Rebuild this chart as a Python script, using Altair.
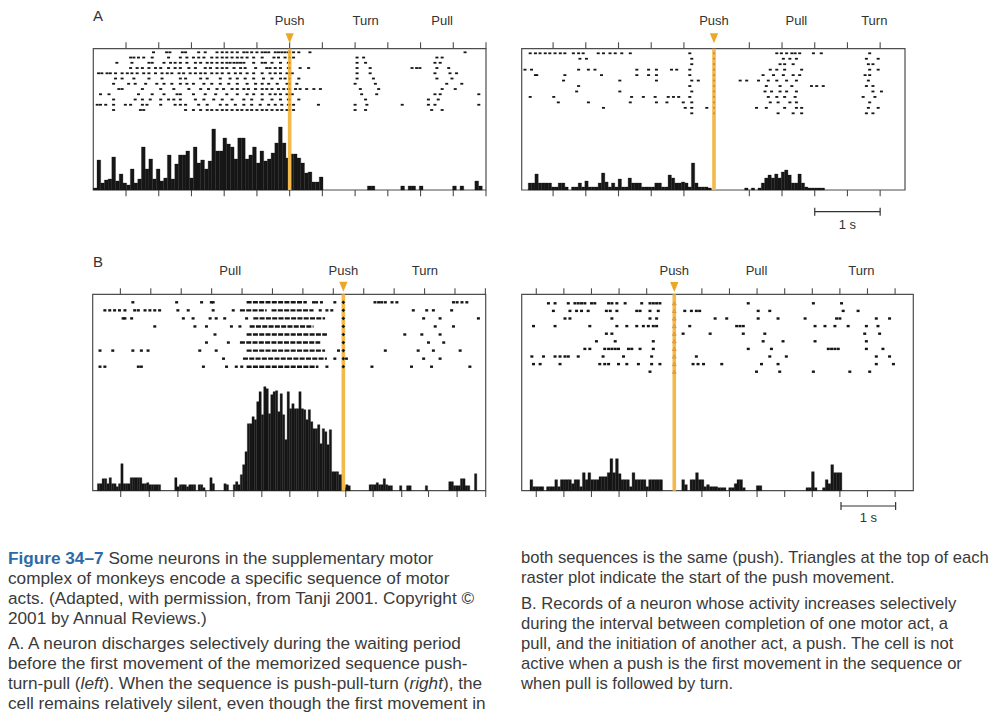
import altair as alt
import pandas as pd

FONT = "Liberation Sans"
INK = "#161616"
FRAME = "#4d4d4d"
ORANGE = "#F3B94A"
TRIC = "#EBA826"
MARKC = "#D98A2B"
TEXT = "#3a3a3a"
BLUE = "#2d6aa6"
OFF = 8  # page margin

# ---------------- DATA (times in s relative to push onset) ----------------
# A, left: push-turn-pull
al_rows = [
    [-2.08, -1.88, -1.83, -1.64, -1.59, -1.39, -1.29, -1.11, -1.03, -0.96, -0.88, -0.80, -0.70, -0.65, -0.58, -0.50, -0.42, -0.37, -0.32, -0.22, -0.17, -0.12, -0.07, -0.02, 0.06, 0.14, 0.31, 2.68],
    [-2.43, -2.38, -2.31, -2.23, -2.10, -1.85, -1.67, -1.57, -1.47, -1.39, -1.31, -1.19, -1.11, -1.03, -0.96, -0.88, -0.80, -0.73, -0.65, -0.55, -0.42, -0.24, -0.17, -0.07, 0.06, 1.03, 1.13, 2.25, 2.33],
    [-2.64, -2.41, -2.15, -2.10, -1.92, -1.82, -1.75, -1.67, -1.57, -1.44, -1.36, -1.26, -1.19, -1.11, -1.03, -0.96, -0.91, -0.85, -0.80, -0.75, -0.70, -0.55, -0.42, -0.37, -0.27, -0.14, -0.02, 1.03, 1.16, 2.22, 2.30],
    [-2.43, -2.33, -2.25, -2.15, -2.05, -1.97, -1.85, -1.75, -1.67, -1.54, -1.44, -1.29, -1.21, -1.11, -1.03, -0.96, -0.85, -0.75, -0.68, -0.52, -0.35, -0.30, -0.22, -0.14, -0.02, 0.16, 0.29, 1.03, 1.23, 1.87, 1.94, 1.99, 2.25, 2.43],
    [-2.92, -2.87, -2.79, -2.74, -2.66, -2.56, -2.48, -2.41, -2.33, -2.23, -2.15, -2.05, -1.95, -1.87, -1.80, -1.69, -1.62, -1.52, -1.44, -1.36, -1.29, -1.19, -1.11, -1.03, -0.93, -0.83, -0.75, -0.65, -0.55, -0.42, -0.30, -0.22, -0.14, -0.04, 0.04, 1.03, 1.23, 2.22, 2.45, 2.55],
    [-2.66, -2.56, -2.38, -2.15, -1.95, -1.67, -1.59, -1.36, -1.26, -1.06, -0.91, -0.80, -0.68, -0.55, -0.40, -0.27, -0.14, -0.07, 0.14, 1.03, 1.28, 2.25, 2.48],
    [-2.69, -2.46, -2.36, -2.20, -2.03, -1.92, -1.80, -1.67, -1.57, -1.47, -1.31, -1.19, -1.06, -0.93, -0.80, -0.65, -0.52, -0.42, -0.32, -0.19, -0.04, 0.11, 1.00, 1.31, 2.40, 2.63],
    [-2.61, -2.56, -2.25, -1.97, -1.77, -1.54, -1.36, -1.24, -1.11, -1.01, -0.88, -0.80, -0.70, -0.63, -0.52, -0.42, -0.35, -0.27, -0.17, -0.09, -0.02, 0.09, 0.16, 0.26, 0.37, 0.47, 1.08, 1.36, 2.33, 2.53],
    [-2.89, -2.76, -2.31, -2.10, -1.92, -1.72, -1.67, -1.47, -1.29, -1.13, -0.96, -0.80, -0.65, -0.55, -0.42, -0.30, -0.22, -0.14, -0.04, 0.04, 1.10, 1.33, 2.22, 2.30, 2.89],
    [-2.69, -2.36, -2.25, -2.13, -1.97, -1.85, -1.77, -1.67, -1.44, -1.31, -1.16, -1.03, -0.88, -0.70, -0.58, -0.42, -0.27, -0.14, -0.02, 0.14, 1.16, 2.12, 2.27],
    [-2.94, -2.89, -2.81, -2.69, -2.51, -2.43, -2.25, -2.18, -1.97, -1.75, -1.67, -1.59, -1.39, -1.26, -1.06, -0.96, -0.83, -0.70, -0.58, -0.45, -0.32, -0.22, -0.12, -0.02, 0.06, 0.44, 1.00, 1.18, 1.72, 2.12, 2.22, 2.89],
    [-2.69, -2.28, -2.23, -1.59, -1.47, -1.36, -1.26, -1.19, -1.11, -1.03, -0.96, -0.88, -0.80, -0.73, -0.65, -0.58, -0.50, -0.42, -0.35, -0.27, -0.19, -0.12, -0.04, 0.06, 1.00, 1.16, 2.17, 2.33],
]
al_hist_start = -3.0
al_hist_bw = 0.0566
al_hist = [2, 30, 7, 10, 11, 33, 9, 16, 7, 5, 21, 7, 11, 43, 21, 31, 11, 21, 9, 12,
           35, 11, 26, 35, 35, 39, 12, 43, 27, 30, 21, 29, 61, 39, 39, 52, 46, 43, 31, 52,
           52, 31, 35, 43, 27, 39, 29, 31, 37, 47, 63, 47, 32,
           36, 36, 32, 27, 17, 18, 8, 8, 13,
           0, 0, 0, 0, 0, 0, 0, 0, 0, 0, 0, 0, 4, 4, 0, 0, 0, 0, 0, 0, 0,
           4, 0, 4, 4, 0, 4, 0, 0, 0, 0, 0, 0, 0, 0, 4, 0, 4, 0, 0, 0, 9, 4]
al_ticks_top = [-2.5, -2.0, -1.5, -1.0, -0.5, 0.0, 0.5, 1.0, 1.5, 2.0, 2.5, 3.0]
al_ticks_bot = [-2.5, -2.0, -1.5, -1.0, -0.5, 0.0, 0.5, 1.0, 1.5, 2.0, 2.5, 3.0]
al_labels = ["Push", "Turn", "Pull"]
al_label_t = [0.0, 1.16, 2.33]

# A, right: push-pull-turn
ar_rows = [
    [-2.81, -2.73, -2.66, -2.58, -2.51, -2.43, -2.35, -2.28, -2.15, -2.07, -2.00, -1.77, -1.69, -1.59, -1.51, -1.41, -1.28, -0.37, 0.96, 1.03, 1.11, 1.19, 1.24, 1.31, 1.52, 1.64, 2.38],
    [-2.05, -1.95, -0.34, 1.06, 1.16, 1.26, 2.33, 2.51],
    [-0.34, 1.01, 1.08, 1.21, 2.36, 2.43],
    [-2.89, -2.79, -2.07, -1.92, -1.82, -1.18, -1.00, -0.88, -0.65, -0.57, -0.37, 0.86, 0.96, 1.08, 1.34, 2.38, 2.51],
    [-2.73, -2.71, -2.28, -1.72, -1.18, -1.00, -0.88, -0.37, 0.75, 0.91, 1.06, 1.21, 1.31, 2.31, 2.38],
    [-2.30, -1.44, -0.88, -0.34, -0.24, 0.40, 0.50, 0.68, 0.83, 0.96, 1.11, 1.26, 2.36],
    [-2.07, -0.37, 0.80, 1.01, 1.19, 1.49, 1.57, 1.67, 2.33, 2.43],
    [-2.10, -1.44, -0.34, 0.78, 0.88, 1.01, 1.11, 1.26, 2.43, 2.56],
    [-2.81, -2.45, -1.26, -1.08, -0.90, -0.70, -0.62, -0.54, -0.37, 0.83, 0.96, 1.08, 1.24, 2.28, 2.46],
    [-2.38, -1.92, -1.28, -0.88, -0.72, -0.47, -0.34, 0.86, 0.98, 1.16, 1.26, 2.38],
    [-1.69, -0.44, -0.34, -0.11, 0.65, 0.80, 1.08, 1.26, 1.34, 2.36, 2.51],
    [-0.34, 0.98, 1.21, 1.34, 2.33, 2.43],
]
ar_hist_start = -2.84
ar_hist_bw = 0.0509
ar_hist = [7, 7, 16, 7, 7, 7, 7, 3, 3, 7, 7, 3, 0, 3, 3, 7, 3, 9, 3, 3,
           3, 7, 17, 8, 3, 7, 3, 11, 3, 3, 12, 7, 7, 7, 3, 3, 3, 3, 7, 7,
           3, 3, 15, 12, 7, 7, 8, 7, 3, 27, 7, 3, 3, 3, 2, 0,
           0, 0, 0, 0, 0, 0, 0, 0, 0, 2, 0, 2, 0, 2, 7, 12, 15, 12, 16, 12,
           18, 20, 15, 7, 7, 16, 7, 3, 2, 2, 2, 2, 2]
ar_ticks_top = [-2.46, -1.96, -1.46, -0.96, -0.46, 0.54, 1.04, 1.54, 2.04, 2.54]
ar_ticks_bot = [-2.46, -1.96, -1.46, -0.96, -0.46, 0.54, 1.04, 1.54, 2.04, 2.54]
ar_labels = ["Push", "Pull", "Turn"]
ar_label_t = [0.0, 1.26, 2.45]
ar_scalebar = [1.54, 2.54]

# B, left: pull-push-turn
bl_rows = [
    [-3.46, -2.74, -2.33, -2.17, -2.14, -0.49, -0.44, -0.36, -0.14, 0.52, 0.58, 0.63, 0.69, 0.80, 0.88, 1.81, 1.87, 1.95, 2.03],
    [-3.92, -3.84, -3.76, -3.68, -3.59, -3.43, -3.37, -3.26, -3.18, -3.10, -3.02, -2.72, -2.55, -2.14, -1.81, -0.38, -0.27, -0.19, 1.15, 1.37, 1.48, 1.78],
    [-3.62, -3.59, -3.48, -2.63, -2.47, -2.19, -2.09, -1.95, -1.59, 1.32, 1.59, 2.22],
    [-3.10, -2.44, -2.25, -1.84, -1.70, 1.51, 1.81],
    [-2.11, 1.01, 1.29, 1.59],
    [-2.25, -1.89, 1.40, 1.65],
    [-4.00, -3.79, -3.46, -3.32, -3.21, -2.36, -2.09, -0.08, 0.69, 1.23, 1.48, 1.92],
    [-1.97, -0.14, 0.05, 1.32, 1.59],
    [-4.00, -3.92, -3.37, -3.32, -2.30, -1.92, -1.76, -1.67, -0.27, 0.47, 1.12, 1.45, 2.08],
]
bl_burst_row = [1, 2, 2, 3, 4, 5, 6, 7, 8, 9]
bl_burst_start = [-1.59, -1.70, -1.18, -1.48, -1.54, -1.59, -1.70, -1.59, -1.65, -1.59]
bl_burst_end = [-0.60, -1.26, -0.49, -0.30, -0.49, -0.27, -0.38, -0.30, -0.27, -0.41]
bl_hist_start = -4.12
bl_hist_bw = 0.0385
bl_hist = [0, 0, 7, 7, 12, 12, 7, 13, 7, 7, 4, 7, 27, 7, 7, 7, 13, 13, 13, 13,
           13, 7, 7, 8, 6, 6, 6, 6, 6, 0, 0, 0, 0, 0, 0, 13, 4, 6, 6, 6,
           4, 6, 6, 6, 0, 6, 6, 3, 0, 0, 13, 7, 0, 0, 0, 0, 7, 6, 0, 0,
           6, 9, 6, 16, 26, 39, 67, 67, 74, 71, 89, 99, 76, 104, 102, 77, 96, 99, 100, 79,
           97, 76, 51, 99, 82, 87, 82, 82, 99, 82, 81, 71, 81, 69, 62, 62, 66, 47, 62, 59,
           46, 61, 19, 19, 19, 16, 16, 3, 6, 5, 0, 0, 0, 0, 0, 0, 0, 0, 6, 6,
           6, 8, 6, 6, 12, 6, 5, 5, 0, 0, 0, 5, 0, 0, 5, 5, 0, 0, 0, 0,
           0, 0, 5, 0, 0, 0, 0, 0, 0, 0, 0, 0, 9, 9, 5, 5, 5, 12, 12, 5,
           5, 0, 0, 17]
bl_ticks_top = [-3.665, -3.165, -2.665, -2.165, -1.665, -1.165, -0.665, -0.165, 0.335, 0.835, 1.335, 1.835, 2.335]
bl_ticks_bot = [-3.66, -3.19, -2.72, -2.26, -1.80, -1.34, -0.88, -0.42, 0.04, 0.49, 0.96, 1.40, 1.87, 2.34]
bl_labels = ["Pull", "Push", "Turn"]
bl_label_t = [-1.86, 0.0, 1.34]

# B, right: push-pull-turn
br_rows = [
    [-2.28, -2.16, -1.92, -1.80, -1.74, -1.68, -1.62, -1.50, -1.44, -1.19, -1.13, -1.04, -0.89, -0.59, -0.44, -0.38, -0.32, -0.26, 1.34, 2.52, 3.03],
    [-2.19, -1.89, -1.77, -1.68, -1.56, -1.23, -1.16, -1.04, -0.68, -0.62, -0.44, -0.29, 0.19, 0.31, 0.40, 0.46, 1.52, 1.73, 3.06, 3.33],
    [-1.98, -1.89, -1.13, -0.44, -0.32, 0.74, 0.95, 1.52, 1.88, 2.37, 2.94, 3.00, 3.66, 3.90],
    [-2.55, -2.16, -1.53, -1.04, -0.86, -0.68, -0.56, -0.47, -0.38, -0.32, 0.28, 1.13, 1.19, 1.25, 2.55, 2.73, 2.91, 3.15, 3.48, 3.69],
    [-1.23, -1.13, 0.16, 0.65, 1.25, 1.64, 3.45, 3.72],
    [-1.41, -1.07, -0.38, 1.61, 1.97, 2.55, 3.48],
    [-1.62, -1.53, -1.26, -1.19, -1.13, -1.07, -1.01, -0.83, -0.77, -0.62, -0.38, 1.34, 1.76, 2.79, 2.85, 2.91, 2.97, 3.48, 3.78],
    [-2.58, -2.37, -2.16, -2.07, -1.98, -1.92, -1.74, -1.29, -0.92, -0.41, 0.40, 1.73, 2.03, 3.66, 3.90],
    [-2.55, -2.43, -2.07, -1.35, -1.26, -1.19, -1.01, -0.86, -0.65, -0.41, -0.26, 0.34, 0.43, 0.53, 0.86, 1.58, 1.88, 3.66, 3.97],
    [-0.44, 1.49, 1.91, 2.52, 3.18, 3.54],
]
br_hist_start = -2.764
br_hist_bw = 0.05
br_hist = [0, 0, 0, 11, 4, 4, 4, 4, 0, 4, 4, 4, 11, 4, 11, 11, 11, 11, 7, 11,
           11, 4, 18, 11, 18, 11, 11, 11, 14, 14, 14, 18, 32, 18, 32, 17, 11, 11, 11, 4,
           18, 11, 11, 11, 11, 4, 11, 11, 11, 11, 11, 0, 0, 0, 0, 0, 0, 0, 11, 6,
           0, 11, 11, 18, 11, 11, 4, 6, 4, 4, 4, 3, 3, 3, 0, 3, 3, 7, 11, 11,
           3, 0, 0, 0, 0, 5, 5, 0, 0, 0, 0, 0, 0, 0, 0, 0, 0, 0, 0, 0,
           0, 0, 0, 3, 3, 19, 3, 0, 0, 3, 11, 7, 26, 18, 18, 18]
br_ticks_top = [-2.5, -2.0, -1.5, -1.0, -0.5, 0.5, 1.0, 1.5, 2.0, 2.5, 3.0, 3.5, 4.0]
br_ticks_bot = [-2.5, -2.0, -1.5, -1.0, -0.5, 0.5, 1.0, 1.5, 2.0, 2.5, 3.0, 3.5, 4.0]
br_labels = ["Push", "Pull", "Turn"]
br_label_t = [0.0, 1.49, 3.39]
br_scalebar = [3.02, 4.01]

# caption text
cap_left = [
    "complex of monkeys encode a specific sequence of motor",
    "acts.  (Adapted, with permission, from Tanji 2001. Copyright ©",
    "2001 by Annual Reviews.)",
    "A. A neuron discharges selectively during the waiting period",
    "before the first movement of the memorized sequence push-",
    None,
    "cell remains relatively silent, even though the first movement in",
]
cap_right = [
    "both sequences is the same (push). Triangles at the top of each",
    "raster plot indicate the start of the push movement.",
    "B. Records of a neuron whose activity increases selectively",
    "during the interval between completion of one motor act, a",
    "pull, and the initiation of another act, a push. The cell is not",
    "active when a push is the first movement in the sequence or",
    "when pull is followed by turn.",
]

# ---------------- LAYOUT (page pixels) ----------------
GEOM = {
    "AL": dict(x0=93.3, x1=486.0, dom=[-3.0, 3.0], top=48.7, bot=190.0, r1=52.3, rN=110.0, tri=38.3, lab=21.0, tt=42.3, tb=196.3),
    "AR": dict(x0=521.7, x1=905.0, dom=[-2.94, 2.92], top=48.7, bot=190.0, r1=53.3, rN=113.3, tri=38.3, lab=21.0, tt=42.3, tb=196.3),
    "BL": dict(x0=92.7, x1=485.7, dom=[-4.12, 2.34], top=294.3, bot=490.7, r1=302.3, rN=366.7, tri=286.7, lab=270.5, tt=288.3, tb=497.0),
    "BR": dict(x0=521.7, x1=913.3, dom=[-2.764, 4.33], top=294.3, bot=490.7, r1=303.3, rN=371.7, tri=287.0, lab=270.5, tt=288.3, tb=497.0),
}
DASH = "M-1,-0.6L1,-0.6L1,0.6L-1,0.6Z"
BLOB = "M-1,-0.8L1,-0.8L1,0.8L-1,0.8Z"
TRI = "M-0.83,-1L0.83,-1L0,1Z"
CAP_L = 17.2
CAP_R = 16.6


def px(v):
    return v - OFF


def xs(g):
    return alt.Scale(domain=g["dom"], range=[px(g["x0"]), px(g["x1"])], nice=False, zero=False)


def X(field, g):
    return alt.X(field, scale=xs(g), axis=None)


def frame(g):
    df = pd.DataFrame({"a": [g["dom"][0]], "b": [g["dom"][1]]})
    return alt.Chart(df).mark_rect(fill="white", fillOpacity=0, stroke=FRAME, strokeWidth=1.2).encode(
        x=X("a:Q", g), x2="b:Q", y=alt.value(px(g["top"])), y2=alt.value(px(g["bot"])))


def ticks(g, vals, y0, y1):
    df = pd.DataFrame({"t": vals})
    return alt.Chart(df).mark_rule(color=FRAME, strokeWidth=1.1).encode(
        x=X("t:Q", g), y=alt.value(px(y0)), y2=alt.value(px(y1)))


def hist(g, start, bw, vals):
    df = pd.DataFrame({"h": vals})
    df["t0"] = start + bw * df.index
    df["t1"] = df["t0"] + bw
    df["z"] = 0
    df = df[df["h"] > 0]
    hmax = g["bot"] - g["top"]
    return alt.Chart(df).mark_rect(color=INK, stroke=INK, strokeWidth=0.3).encode(
        x=X("t0:Q", g), x2="t1:Q",
        y=alt.Y("h:Q", scale=alt.Scale(domain=[0, hmax], range=[px(g["bot"]), px(g["top"])], nice=False), axis=None),
        y2="z:Q")


def rowscale(g, n):
    return alt.Scale(domain=[1, n], range=[px(g["r1"]), px(g["rN"])], nice=False, zero=False)


def raster(g, rows, shape, size):
    df = pd.DataFrame([{"t": t, "r": i + 1} for i, row in enumerate(rows) for t in row])
    return alt.Chart(df).mark_point(shape=shape, filled=True, size=size, color=INK, opacity=1, strokeWidth=0).encode(
        x=X("t:Q", g), y=alt.Y("r:Q", scale=rowscale(g, len(rows)), axis=None))


def push_line(g):
    df = pd.DataFrame({"t": [0.0]})
    return alt.Chart(df).mark_rule(color=ORANGE, strokeWidth=3.6).encode(
        x=X("t:Q", g), y=alt.value(px(g["top"])), y2=alt.value(px(g["bot"])))


def push_marks(g, n, color, shape, size, filled=True):
    df = pd.DataFrame({"t": [0.0] * n, "r": list(range(1, n + 1))})
    return alt.Chart(df).mark_point(shape=shape, filled=filled, size=size, color=color, opacity=1,
                                    strokeWidth=0 if filled else 0.8).encode(
        x=X("t:Q", g), y=alt.Y("r:Q", scale=rowscale(g, n), axis=None))


def triangle(g):
    df = pd.DataFrame({"t": [0.0]})
    return alt.Chart(df).mark_point(shape=TRI, filled=True, size=100, color=TRIC, opacity=1, strokeWidth=0).encode(
        x=X("t:Q", g), y=alt.value(px(g["tri"])))


def labels(g, names, times):
    df = pd.DataFrame({"t": times, "s": names})
    return alt.Chart(df).mark_text(font=FONT, fontSize=13, color="#333333", baseline="middle", align="center").encode(
        x=X("t:Q", g), y=alt.value(px(g["lab"])), text="s:N")


def scalebar(g, ends, y, ty):
    df = pd.DataFrame({"a": [ends[0]], "b": [ends[1]]})
    bar = alt.Chart(df).mark_rule(color="#333333", strokeWidth=1.2).encode(
        x=X("a:Q", g), x2="b:Q", y=alt.value(px(y)))
    dfc = pd.DataFrame({"t": ends})
    caps = alt.Chart(dfc).mark_rule(color="#333333", strokeWidth=1.2).encode(
        x=X("t:Q", g), y=alt.value(px(y - 4)), y2=alt.value(px(y + 4)))
    dft = pd.DataFrame({"t": [(ends[0] + ends[1]) / 2], "s": ["1 s"]})
    lab = alt.Chart(dft).mark_text(font=FONT, fontSize=13, color="#333333", baseline="middle").encode(
        x=X("t:Q", g), y=alt.value(px(ty)), text="s:N")
    return [bar, caps, lab]


def txt(s, x, y, size=CAP_L, color=TEXT, weight="normal", style="normal", baseline="alphabetic"):
    df = pd.DataFrame({"s": [s]})
    return alt.Chart(df).mark_text(font=FONT, fontSize=size, color=color, fontWeight=weight, fontStyle=style,
                                   align="left", baseline=baseline).encode(
        x=alt.value(px(x)), y=alt.value(px(y)), text="s:N")


layers = []

# ----- panel A left
g = GEOM["AL"]
layers += [frame(g), ticks(g, al_ticks_top, g["tt"], g["top"]), ticks(g, al_ticks_bot, g["bot"], g["tb"]),
           hist(g, al_hist_start, al_hist_bw, al_hist), raster(g, al_rows, DASH, 9),
           push_line(g), push_marks(g, len(al_rows), MARKC, "circle", 5), triangle(g),
           labels(g, al_labels, al_label_t)]
# ----- panel A right
g = GEOM["AR"]
layers += [frame(g), ticks(g, ar_ticks_top, g["tt"], g["top"]), ticks(g, ar_ticks_bot, g["bot"], g["tb"]),
           hist(g, ar_hist_start, ar_hist_bw, ar_hist), raster(g, ar_rows, DASH, 9),
           push_line(g), push_marks(g, len(ar_rows), MARKC, "circle", 5), triangle(g),
           labels(g, ar_labels, ar_label_t)]
layers += scalebar(g, ar_scalebar, 211.7, 224.5)
# ----- panel B left
g = GEOM["BL"]
bursts = pd.DataFrame({"r": bl_burst_row, "s": bl_burst_start, "e": bl_burst_end})
layers += [frame(g), ticks(g, bl_ticks_top, g["tt"], g["top"]), ticks(g, bl_ticks_bot, g["bot"], g["tb"]),
           hist(g, bl_hist_start, bl_hist_bw, bl_hist), raster(g, bl_rows, BLOB, 9),
           alt.Chart(bursts).mark_rule(color=INK, strokeWidth=2.4, strokeDash=[5, 1.3]).encode(
               x=X("s:Q", g), x2="e:Q", y=alt.Y("r:Q", scale=rowscale(g, len(bl_rows)), axis=None)),
           push_line(g), push_marks(g, len(bl_rows), INK, "diamond", 14), triangle(g),
           labels(g, bl_labels, bl_label_t)]
# ----- panel B right
g = GEOM["BR"]
layers += [frame(g), ticks(g, br_ticks_top, g["tt"], g["top"]), ticks(g, br_ticks_bot, g["bot"], g["tb"]),
           hist(g, br_hist_start, br_hist_bw, br_hist), raster(g, br_rows, BLOB, 9),
           push_line(g), push_marks(g, len(br_rows), MARKC, "triangle-up", 14, filled=False), triangle(g),
           labels(g, br_labels, br_label_t)]
layers += scalebar(g, br_scalebar, 506.0, 518.0)

# ----- panel letters
layers += [txt("A", 93, 8.5, size=15, color="#333333", baseline="top"),
           txt("B", 93, 255, size=15, color="#333333", baseline="top")]

# ----- caption, left column
LX = 8
left_base = [564.3, 584.3, 604.3, 624.3, 649.3, 669.3, 689.3, 709.3]
layers += [txt("Figure 34–7", LX, left_base[0], color=BLUE, weight="bold"),
           txt("Some neurons in the supplementary motor", LX + 100.4, left_base[0])]
for i, line in enumerate(cap_left):
    if line is not None:
        layers.append(txt(line, LX, left_base[i + 1]))
y7 = left_base[6]
layers += [txt("turn-pull (", LX, y7), txt("left", LX + 72.6, y7, style="italic"),
           txt("). When the sequence is push-pull-turn (", LX + 95.6, y7),
           txt("right", LX + 401.5, y7, style="italic"), txt("), the", LX + 435.0, y7)]
# ----- caption, right column
RX = 521
right_base = [563.3, 583.3, 609.3, 629.3, 649.3, 669.3, 689.3]
for i, line in enumerate(cap_right):
    layers.append(txt(line, RX, right_base[i], size=CAP_R))

chart = alt.layer(*layers).resolve_scale(x="independent", y="independent").properties(
    width=984, height=707, autosize=alt.AutoSizeParams(type="none"), padding=0
).configure_view(strokeWidth=0)

chart.save("out.html", embed_options={"renderer": "svg", "actions": False})
